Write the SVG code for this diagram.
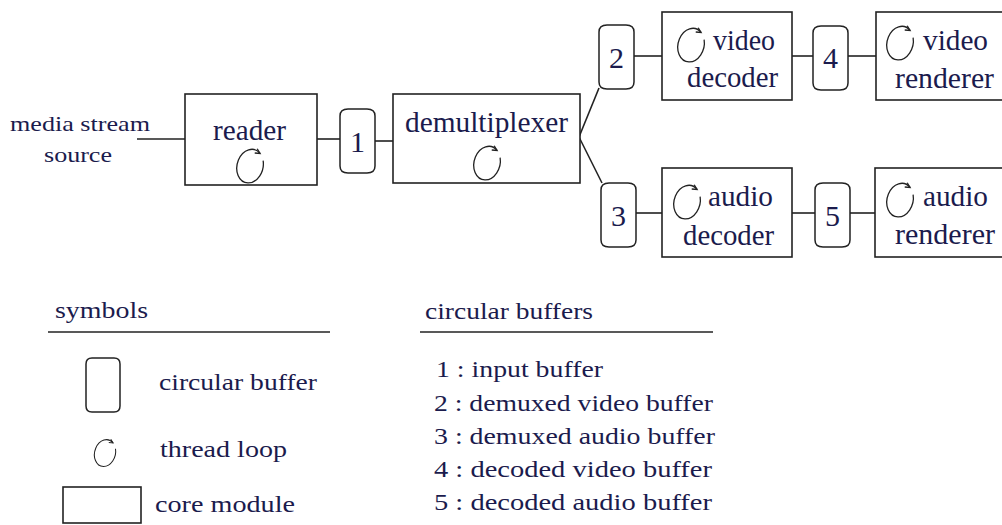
<svg xmlns="http://www.w3.org/2000/svg" width="1002" height="525" viewBox="0 0 1002 525">
<style>
.box{fill:#fff;stroke:#222;stroke-width:1.6}
.buf{fill:#fff;stroke:#222;stroke-width:1.5}
.ln{fill:none;stroke:#222;stroke-width:1.6}
.loop{fill:none;stroke:#222;stroke-width:1.3}
</style>
<defs>
<g id="loop">
<g transform="rotate(15)">
<path class="loop" d="M11.3,-8.5 A13,17 0 1 1 6.5,-14.7"/>
<path class="loop" d="M2.5,-18.5 L6.5,-14.7 L1.2,-13.8"/>
</g>
</g>
<path id="bufshape" d="M0,7 Q0,0 8,0 L27,0 Q35,0 35,7 L35,57 Q35,64 27,64 L8,64 Q0,64 0,57 Z"/>
</defs>
<rect width="1002" height="525" fill="#fff"/>

<g id="connectors">
<line class="ln" x1="137" y1="139" x2="185" y2="139"/>
<line class="ln" x1="317" y1="139" x2="340" y2="139"/>
<line class="ln" x1="375" y1="141" x2="393" y2="141"/>
<line class="ln" x1="579" y1="137" x2="599" y2="88"/>
<line class="ln" x1="579" y1="137" x2="602" y2="183"/>
<line class="ln" x1="634" y1="56" x2="662" y2="56"/>
<line class="ln" x1="792" y1="56" x2="813" y2="56"/>
<line class="ln" x1="848" y1="56" x2="876" y2="56"/>
<line class="ln" x1="636" y1="213" x2="662" y2="213"/>
<line class="ln" x1="792" y1="213" x2="815" y2="213"/>
<line class="ln" x1="849" y1="213" x2="875" y2="213"/>
</g>

<g font-family="Liberation Serif, Times New Roman, serif" fill="#1b1b4d">
<g id="source" font-size="21">
<text x="10" y="131" textLength="140" lengthAdjust="spacingAndGlyphs">media stream</text>
<text x="44" y="162" textLength="68" lengthAdjust="spacingAndGlyphs">source</text>
</g>

<g id="reader" font-size="30">
<rect class="box" x="185" y="94" width="132" height="91"/>
<text x="213" y="140" textLength="73" lengthAdjust="spacingAndGlyphs">reader</text>
<use href="#loop" x="250" y="166"/>
</g>

<g id="buffer1" font-size="30" text-anchor="middle">
<use href="#bufshape" class="buf" x="340" y="109"/>
<text x="357.5" y="152">1</text>
</g>

<g id="demultiplexer" font-size="30">
<rect class="box" x="393" y="94" width="187" height="89"/>
<text x="405" y="132" textLength="163" lengthAdjust="spacingAndGlyphs">demultiplexer</text>
<use href="#loop" x="487" y="163"/>
</g>

<g id="buffer2" font-size="30" text-anchor="middle">
<use href="#bufshape" class="buf" x="599" y="25"/>
<text x="616.5" y="68">2</text>
</g>

<g id="buffer3" font-size="30" text-anchor="middle">
<use href="#bufshape" class="buf" x="601" y="183"/>
<text x="618.5" y="226">3</text>
</g>

<g id="video-decoder" font-size="30">
<rect class="box" x="662" y="12" width="130" height="88"/>
<use href="#loop" x="691" y="45"/>
<text x="713" y="50" textLength="62" lengthAdjust="spacingAndGlyphs">video</text>
<text x="687" y="87" textLength="91" lengthAdjust="spacingAndGlyphs">decoder</text>
</g>

<g id="buffer4" font-size="30" text-anchor="middle">
<use href="#bufshape" class="buf" x="813" y="26"/>
<text x="830.5" y="68">4</text>
</g>

<g id="video-renderer" font-size="30">
<rect class="box" x="876" y="12" width="132" height="88"/>
<use href="#loop" x="900" y="43"/>
<text x="923" y="50" textLength="65" lengthAdjust="spacingAndGlyphs">video</text>
<text x="895" y="88" textLength="99" lengthAdjust="spacingAndGlyphs">renderer</text>
</g>

<g id="audio-decoder" font-size="30">
<rect class="box" x="662" y="168" width="130" height="89"/>
<use href="#loop" x="687" y="202"/>
<text x="708" y="206" textLength="65" lengthAdjust="spacingAndGlyphs">audio</text>
<text x="683" y="245" textLength="91" lengthAdjust="spacingAndGlyphs">decoder</text>
</g>

<g id="buffer5" font-size="30" text-anchor="middle">
<use href="#bufshape" class="buf" x="815" y="183"/>
<text x="832.5" y="226">5</text>
</g>

<g id="audio-renderer" font-size="30">
<rect class="box" x="875" y="168" width="133" height="89"/>
<use href="#loop" x="900" y="200"/>
<text x="923" y="206" textLength="65" lengthAdjust="spacingAndGlyphs">audio</text>
<text x="895" y="244" textLength="100" lengthAdjust="spacingAndGlyphs">renderer</text>
</g>

<g id="legend-symbols" font-size="23">
<text x="55" y="318" textLength="93" lengthAdjust="spacingAndGlyphs">symbols</text>
<line class="ln" x1="48" y1="332" x2="330" y2="332"/>
<path class="buf" d="M86,364 Q86,358 92,358 L114,358 Q120,358 120,364 L120,406 Q120,412 114,412 L92,412 Q86,412 86,406 Z"/>
<text x="159" y="390" textLength="158" lengthAdjust="spacingAndGlyphs">circular buffer</text>
<use href="#loop" transform="translate(105,453) scale(0.8)"/>
<text x="160" y="457" textLength="127" lengthAdjust="spacingAndGlyphs">thread loop</text>
<rect class="box" x="63" y="487" width="78" height="36"/>
<text x="155" y="512" textLength="140" lengthAdjust="spacingAndGlyphs">core module</text>
</g>

<g id="legend-buffers" font-size="23">
<text x="425" y="319" textLength="168" lengthAdjust="spacingAndGlyphs">circular buffers</text>
<line class="ln" x1="420" y1="332" x2="713" y2="332"/>
<text x="436" y="377" textLength="167" lengthAdjust="spacingAndGlyphs">1 : input buffer</text>
<text x="434" y="411" textLength="279" lengthAdjust="spacingAndGlyphs">2 : demuxed video buffer</text>
<text x="434" y="444" textLength="281" lengthAdjust="spacingAndGlyphs">3 : demuxed audio buffer</text>
<text x="434" y="477" textLength="278" lengthAdjust="spacingAndGlyphs">4 : decoded video buffer</text>
<text x="434" y="510" textLength="278" lengthAdjust="spacingAndGlyphs">5 : decoded audio buffer</text>
</g>
</g>
</svg>
